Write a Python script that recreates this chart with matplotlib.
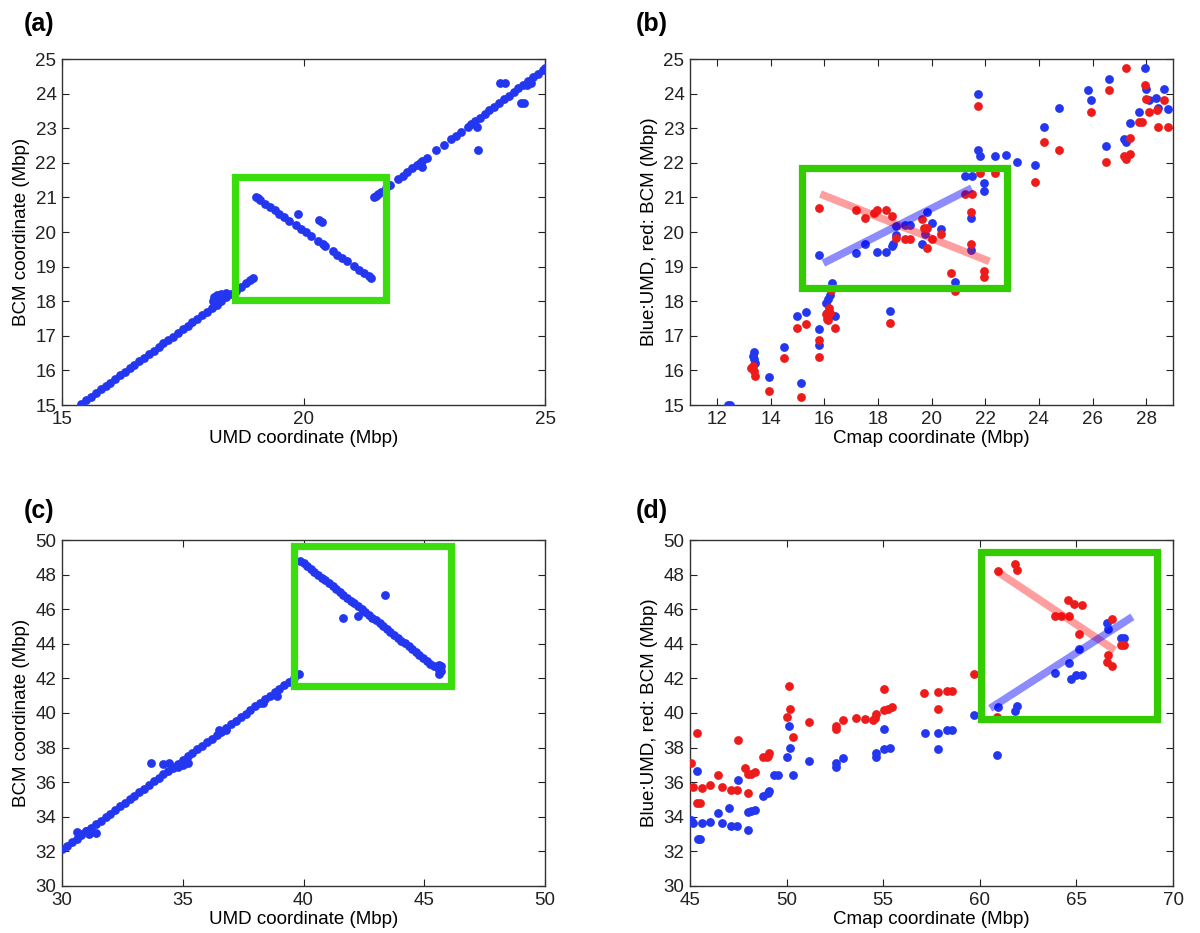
import matplotlib
matplotlib.use("Agg")
import matplotlib.pyplot as plt
from matplotlib.patches import Rectangle

plt.rcParams['font.family'] = ['Liberation Sans', 'DejaVu Sans']

# ---------------- data ----------------
# Panel (a): UMD vs BCM coordinate (Mbp), chromosome region 15-25
a_umd = [15.40, 15.50, 15.60, 15.70, 15.80, 15.90, 16.00, 16.10, 16.20, 16.30,
         16.40, 16.50, 16.60, 16.70, 16.80, 16.90, 17.00, 17.10, 17.20, 17.30,
         17.40, 17.50, 17.60, 17.70, 17.80, 17.90, 18.00, 18.10, 18.20, 18.30,
         18.40, 18.50, 18.60, 18.70, 18.80, 18.90, 18.95,
         18.12, 18.15, 18.20, 18.25, 18.30, 18.35, 18.40, 18.18, 18.28,
         19.01, 19.05, 19.10, 19.20, 19.30, 19.40, 19.50, 19.60, 19.70, 19.85,
         19.95, 20.05, 20.15, 20.30, 20.40, 20.45, 20.60, 20.70, 20.80, 20.90,
         21.05, 21.15, 21.25, 21.35, 21.40,
         19.88, 20.33, 20.38,
         21.46, 21.50, 21.55, 21.60, 21.70, 21.80, 21.95, 22.05, 22.15, 22.25,
         22.35, 22.45, 22.55, 22.75, 22.90, 23.05, 23.15, 23.25, 23.40, 23.55,
         23.65, 23.75, 23.85, 23.95, 24.05, 24.15, 24.25, 24.35, 24.45, 24.55,
         24.65, 24.75, 24.85, 24.95, 25.00,
         22.46, 22.42, 23.46, 23.60, 23.62, 24.06, 24.18, 24.50, 24.56, 24.62, 24.70]
a_bcm = [15.04, 15.14, 15.24, 15.35, 15.45, 15.55, 15.65, 15.76, 15.86, 15.96,
         16.06, 16.16, 16.27, 16.37, 16.47, 16.57, 16.68, 16.78, 16.88, 16.98,
         17.09, 17.19, 17.29, 17.39, 17.49, 17.60, 17.70, 17.80, 17.90, 18.01,
         18.11, 18.21, 18.31, 18.42, 18.52, 18.62, 18.67,
         18.02, 18.12, 18.18, 18.10, 18.20, 18.15, 18.25, 17.98, 18.05,
         21.01, 20.97, 20.92, 20.82, 20.73, 20.63, 20.53, 20.43, 20.33, 20.19,
         20.09, 19.99, 19.89, 19.75, 19.65, 19.60, 19.45, 19.35, 19.26, 19.16,
         19.01, 18.91, 18.82, 18.72, 18.67,
         20.52, 20.34, 20.28,
         21.01, 21.05, 21.10, 21.16, 21.26, 21.37, 21.52, 21.63, 21.73, 21.84,
         21.94, 22.05, 22.15, 22.36, 22.52, 22.68, 22.78, 22.89, 23.05, 23.20,
         23.31, 23.41, 23.52, 23.62, 23.73, 23.84, 23.94, 24.05, 24.15, 24.26,
         24.36, 24.47, 24.58, 24.68, 24.74,
         21.88, 22.00, 23.13, 23.05, 22.38, 24.31, 24.31, 23.73, 23.73, 24.25, 24.30]

# Panel (b): Cmap coordinate vs UMD (blue) / BCM (red)
b_x_blue = [12.43, 12.50, 13.34, 13.40, 13.43, 13.37, 13.95, 14.51, 15.00, 15.34,
            15.15, 15.80, 15.80, 15.80, 16.05, 16.15, 16.22, 16.31, 16.42, 16.12,
            17.19, 17.51, 17.97, 18.30, 18.53, 18.56, 18.66, 18.66, 19.01, 19.20,
            19.66, 19.82, 19.77, 20.02, 20.37, 20.86, 18.47,
            21.23, 21.52, 21.47, 21.47, 21.75, 21.75, 21.81, 21.97, 21.97, 22.38,
            22.78, 23.19, 23.86, 24.21, 24.77, 25.83, 25.95, 26.62, 26.51, 27.19,
            27.25, 27.39, 27.74, 27.95, 28.01, 28.10, 28.37, 28.44, 28.66, 28.83]
b_y_blue = [15.01, 15.01, 16.43, 16.52, 16.21, 16.33, 15.80, 16.69, 17.58, 17.69,
            15.64, 17.20, 16.74, 19.35, 17.95, 18.07, 18.19, 18.53, 17.58, 17.66,
            19.39, 19.65, 19.42, 19.42, 19.59, 19.65, 20.18, 19.91, 20.21, 20.21,
            19.66, 20.57, 19.93, 20.25, 20.09, 18.55, 17.72,
            21.61, 21.61, 20.40, 19.47, 23.98, 22.38, 22.19, 21.41, 21.20, 22.19,
            22.22, 22.03, 21.95, 23.04, 23.59, 24.11, 23.81, 24.43, 22.50, 22.68,
            22.59, 23.15, 23.47, 24.73, 24.13, 23.82, 23.87, 23.58, 24.14, 23.55]
b_x_red = [13.34, 13.27, 13.37, 13.43, 13.95, 14.51, 15.00, 15.34, 15.15, 15.80,
           15.80, 15.80, 16.05, 16.12, 16.18, 16.22, 16.15, 16.26, 16.42, 17.19,
           17.51, 17.85, 17.97, 18.30, 18.53, 18.66, 18.47, 19.01, 19.20, 19.66,
           19.73, 19.85, 19.82, 20.02, 20.37, 20.73, 20.86, 21.23, 21.52, 21.47,
           21.47, 21.75, 21.81, 21.97, 21.97, 22.38, 23.86, 24.21, 24.77, 25.95,
           26.62, 26.51, 27.19, 27.25, 27.39, 27.39, 27.25, 27.74, 27.83, 27.95,
           28.01, 28.10, 28.39, 28.44, 28.66, 28.83]
b_y_red = [16.12, 16.07, 15.97, 15.83, 15.40, 16.35, 17.24, 17.35, 15.24, 16.87,
           16.40, 20.70, 17.63, 17.50, 17.81, 17.66, 17.47, 18.33, 17.23, 20.65,
           20.40, 20.55, 20.63, 20.63, 20.45, 19.82, 17.38, 19.80, 19.80, 20.38,
           20.13, 20.13, 19.54, 19.80, 19.93, 18.82, 18.31, 21.11, 21.11, 20.59,
           19.66, 23.65, 21.71, 18.86, 18.70, 21.71, 21.46, 22.61, 22.36, 23.47,
           24.10, 22.03, 22.21, 22.12, 22.26, 22.73, 24.73, 23.19, 23.19, 24.24,
           23.85, 23.48, 23.54, 23.03, 23.82, 23.03]
b_fit_blue_x = [15.97, 21.50]
b_fit_blue_y = [19.10, 21.27]
b_fit_red_x = [15.86, 22.16]
b_fit_red_y = [21.10, 19.15]

# Panel (c): UMD vs BCM coordinate (Mbp), region 30-50
c_umd = [30.0, 30.2, 30.4, 30.6, 30.8, 31.0, 31.2, 31.4, 31.6, 31.8,
         32.0, 32.2, 32.4, 32.6, 32.8, 33.0, 33.2, 33.4, 33.6, 33.8,
         34.0, 34.2, 34.4, 34.6, 34.8, 35.0, 35.2, 35.4, 35.6, 35.8,
         36.0, 36.2, 36.4, 36.6, 36.8, 37.0, 37.2, 37.4, 37.6, 37.8,
         38.0, 38.2, 38.4, 38.6, 38.8, 39.0, 39.2, 39.4, 39.6, 39.82,
         30.6, 30.8, 31.0, 31.1, 31.41, 33.69, 34.17, 34.41, 34.6, 34.8,
         35.0, 35.2, 36.5, 36.8, 38.34, 38.9,
         39.86, 40.0, 40.15, 40.3, 40.45, 40.6, 40.75, 40.9, 41.05, 41.2,
         41.35, 41.5, 41.65, 41.8, 41.95, 42.1, 42.25, 42.4, 42.55, 42.7,
         42.85, 43.0, 43.15, 43.3, 43.45, 43.6, 43.75, 43.9, 44.05, 44.2,
         44.35, 44.5, 44.65, 44.8, 44.95, 45.1, 45.25, 45.4, 45.59,
         45.60, 45.65, 45.70, 45.62, 45.68, 43.39, 41.63, 42.27]
c_bcm = [32.12, 32.33, 32.53, 32.74, 32.95, 33.15, 33.36, 33.56, 33.77, 33.98,
         34.18, 34.39, 34.60, 34.80, 35.01, 35.22, 35.42, 35.63, 35.84, 36.04,
         36.25, 36.46, 36.66, 36.87, 37.07, 37.28, 37.49, 37.69, 37.90, 38.11,
         38.31, 38.52, 38.72, 38.93, 39.14, 39.34, 39.55, 39.76, 39.96, 40.17,
         40.38, 40.58, 40.79, 41.00, 41.20, 41.41, 41.62, 41.82, 42.03, 42.25,
         33.10, 33.00, 33.20, 33.00, 33.08, 37.09, 37.05, 37.09, 36.80, 36.90,
         37.00, 37.10, 39.00, 39.00, 40.56, 40.98,
         48.81, 48.66, 48.49, 48.32, 48.16, 47.99, 47.83, 47.66, 47.50, 47.33,
         47.17, 47.00, 46.84, 46.67, 46.50, 46.34, 46.17, 46.01, 45.84, 45.68,
         45.51, 45.35, 45.18, 45.02, 44.85, 44.68, 44.52, 44.35, 44.19, 44.02,
         43.86, 43.69, 43.53, 43.36, 43.20, 43.03, 42.86, 42.70, 42.49,
         42.80, 42.60, 42.40, 42.25, 42.70, 46.80, 45.49, 45.61]

# Panel (d): Cmap coordinate vs UMD (blue) / BCM (red)
d_x_blue = [45.04, 45.16, 45.36, 45.40, 45.54, 45.60, 46.04, 46.46, 46.66, 47.04,
            47.10, 47.42, 47.46, 48.00, 48.00, 48.16, 48.34, 48.78, 49.04, 49.10,
            49.34, 49.54, 50.04, 50.14, 50.16, 50.34, 51.16, 52.54, 52.54, 52.94,
            54.64, 54.64, 55.06, 55.04, 55.34, 57.14, 57.82, 57.82, 58.32, 58.54,
            59.70, 60.90, 60.94, 61.80, 61.90, 63.90, 64.60, 64.70, 64.96, 65.30,
            65.16, 66.60, 66.66, 67.30, 67.46]
d_y_blue = [33.82, 33.66, 36.65, 32.72, 32.72, 33.62, 33.72, 34.20, 33.62, 34.49,
            33.47, 33.47, 36.13, 33.24, 34.30, 34.33, 34.39, 35.22, 35.36, 35.49,
            36.42, 36.44, 37.48, 39.27, 38.00, 36.40, 37.23, 37.09, 36.90, 37.38,
            37.67, 37.48, 39.08, 37.90, 38.00, 38.84, 38.84, 37.94, 39.02, 39.02,
            39.88, 37.57, 40.37, 40.13, 40.40, 42.33, 42.87, 41.97, 42.20, 42.22,
            43.70, 45.18, 44.84, 44.32, 44.32]
d_x_red = [45.04, 45.16, 45.36, 45.36, 45.52, 45.60, 46.04, 46.46, 46.66, 47.10,
           47.42, 47.46, 47.86, 48.00, 48.00, 48.16, 48.34, 48.78, 48.96, 49.10,
           49.04, 50.04, 50.14, 50.16, 50.34, 51.16, 52.54, 52.54, 52.94, 53.60,
           54.06, 54.46, 54.60, 54.64, 55.06, 55.04, 55.26, 55.46, 57.10, 57.82,
           57.82, 58.32, 58.54, 59.70, 60.90, 60.94, 61.80, 61.90, 63.90, 64.18,
           64.56, 64.90, 65.30, 64.60, 65.16, 66.66, 66.56, 66.84, 66.86, 67.30,
           67.46]
d_y_red = [37.11, 35.74, 38.86, 34.82, 34.82, 35.65, 35.82, 36.40, 35.70, 35.53,
           35.53, 38.42, 36.80, 35.36, 36.49, 36.47, 36.57, 37.44, 37.44, 37.67,
           37.51, 39.75, 41.58, 40.25, 38.63, 39.48, 39.25, 39.06, 39.60, 39.69,
           39.63, 39.60, 39.69, 39.92, 41.39, 40.17, 40.21, 40.33, 41.18, 41.21,
           40.21, 41.29, 41.29, 42.25, 39.79, 48.21, 48.59, 48.27, 45.61, 45.61,
           46.53, 46.28, 46.24, 45.61, 44.57, 43.35, 42.97, 42.72, 45.41, 43.95,
           43.91]
d_fit_blue_x = [60.54, 67.90]
d_fit_blue_y = [40.27, 45.56]
d_fit_red_x = [60.94, 66.99]
d_fit_red_y = [48.15, 43.63]

# Highlight boxes: (x0, y0, x1, y1) in data units
box_a = (18.58, 18.04, 21.70, 21.60)
box_b = (15.16, 18.37, 22.81, 21.85)
box_c = (39.62, 41.56, 46.10, 49.65)
box_d = (60.04, 39.63, 69.16, 49.33)

# ---------------- styling ----------------
BLUE = '#2336f0'
RED = '#ee1b1b'
GREEN_AC = '#3ade0c'
GREEN_BD = '#33cc00'
MS = 40
FS = 13.5

fig = plt.figure(figsize=(12, 9.33), dpi=100)

def make_ax(rect):
    ax = fig.add_axes(rect)
    ax.tick_params(direction='in', top=True, right=True, length=5, width=0.8,
                   labelsize=FS, colors='#222222', pad=4)
    for s in ax.spines.values():
        s.set_linewidth(1.0)
        s.set_color('#333333')
    return ax

def add_box(ax, box, color):
    x0, y0, x1, y1 = box
    ax.add_patch(Rectangle((x0, y0), x1 - x0, y1 - y0, fill=False,
                           edgecolor=color, linewidth=5.2, zorder=5,
                           joinstyle='miter', clip_on=False))

W = 0.4025
H = 0.3708
ax_a = make_ax([0.0517, 0.5659, W, H])
ax_b = make_ax([0.575, 0.5659, W, H])
ax_c = make_ax([0.0517, 0.0504, W, H])
ax_d = make_ax([0.575, 0.0504, W, H])

# (a)
ax_a.scatter(a_umd, a_bcm, s=MS, color=BLUE, linewidths=0, zorder=3)
ax_a.set_xlim(15, 25)
ax_a.set_ylim(15, 25)
ax_a.set_xticks([15, 20, 25])
ax_a.set_yticks(range(15, 26))
ax_a.set_xlabel('UMD coordinate (Mbp)', fontsize=FS)
ax_a.set_ylabel('BCM coordinate (Mbp)', fontsize=FS)
add_box(ax_a, box_a, GREEN_AC)

# (b)
ax_b.scatter(b_x_blue, b_y_blue, s=MS, color=BLUE, linewidths=0, zorder=3)
ax_b.scatter(b_x_red, b_y_red, s=MS, color=RED, linewidths=0, zorder=3)
ax_b.plot(b_fit_red_x, b_fit_red_y, color='#ff0000', alpha=0.38, linewidth=5.5,
          solid_capstyle='butt', zorder=4)
ax_b.plot(b_fit_blue_x, b_fit_blue_y, color='#0000ff', alpha=0.45, linewidth=5.5,
          solid_capstyle='butt', zorder=4)
ax_b.set_xlim(11, 29)
ax_b.set_ylim(15, 25)
ax_b.set_xticks(range(12, 29, 2))
ax_b.set_yticks(range(15, 26))
ax_b.set_xlabel('Cmap coordinate (Mbp)', fontsize=FS)
ax_b.set_ylabel('Blue:UMD, red: BCM (Mbp)', fontsize=FS)
add_box(ax_b, box_b, GREEN_BD)

# (c)
ax_c.scatter(c_umd, c_bcm, s=MS, color=BLUE, linewidths=0, zorder=3)
ax_c.set_xlim(30, 50)
ax_c.set_ylim(30, 50)
ax_c.set_xticks(range(30, 51, 5))
ax_c.set_yticks(range(30, 51, 2))
ax_c.set_xlabel('UMD coordinate (Mbp)', fontsize=FS)
ax_c.set_ylabel('BCM coordinate (Mbp)', fontsize=FS)
add_box(ax_c, box_c, GREEN_AC)

# (d)
ax_d.scatter(d_x_blue, d_y_blue, s=MS, color=BLUE, linewidths=0, zorder=3)
ax_d.scatter(d_x_red, d_y_red, s=MS, color=RED, linewidths=0, zorder=3)
ax_d.plot(d_fit_red_x, d_fit_red_y, color='#ff0000', alpha=0.38, linewidth=5.5,
          solid_capstyle='butt', zorder=4)
ax_d.plot(d_fit_blue_x, d_fit_blue_y, color='#0000ff', alpha=0.45, linewidth=5.5,
          solid_capstyle='butt', zorder=4)
ax_d.set_xlim(45, 70)
ax_d.set_ylim(30, 50)
ax_d.set_xticks(range(45, 71, 5))
ax_d.set_yticks(range(30, 51, 2))
ax_d.set_xlabel('Cmap coordinate (Mbp)', fontsize=FS)
ax_d.set_ylabel('Blue:UMD, red: BCM (Mbp)', fontsize=FS)
add_box(ax_d, box_d, GREEN_BD)

for ax in (ax_a, ax_b, ax_c, ax_d):
    ax.xaxis.labelpad = 2
    ax.yaxis.labelpad = 4

fig.text(0.020, 0.974, '(a)', fontsize=18, fontweight='bold', va='center', ha='left')
fig.text(0.530, 0.974, '(b)', fontsize=18, fontweight='bold', va='center', ha='left')
fig.text(0.020, 0.452, '(c)', fontsize=18, fontweight='bold', va='center', ha='left')
fig.text(0.530, 0.452, '(d)', fontsize=18, fontweight='bold', va='center', ha='left')

fig.savefig('out.png', dpi=100)
